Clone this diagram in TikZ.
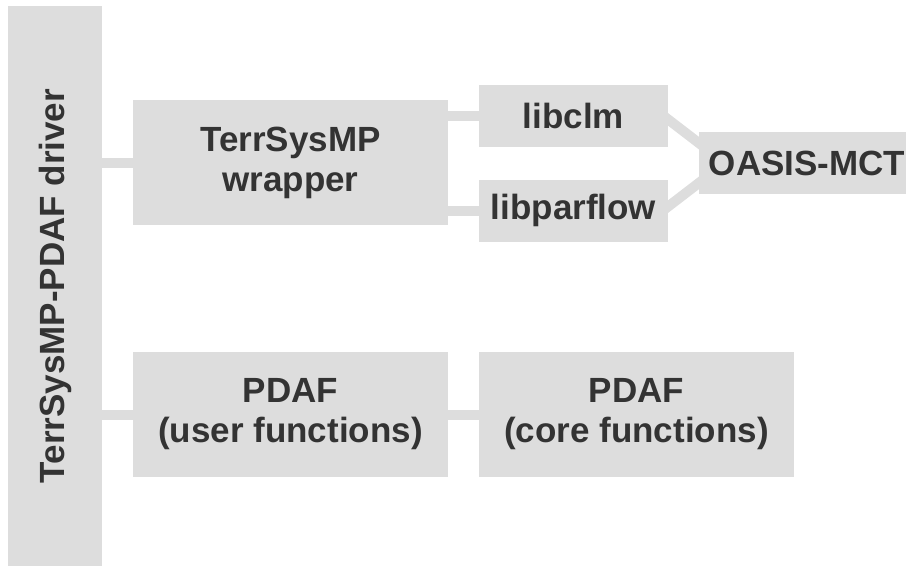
\documentclass[tikz,border=0pt]{standalone}
\usepackage{fontspec}
\setmainfont{Liberation Sans}
\usepackage{xcolor}
\usetikzlibrary{backgrounds,calc}
\definecolor{boxfill}{HTML}{DDDDDD}
\definecolor{boxtext}{HTML}{333333}

\begin{document}
\begin{tikzpicture}[x=1pt,y=-1pt,
        box/.style={rectangle,fill=boxfill,text=boxtext,inner sep=0pt,align=center,
            font=\fontsize{35}{40}\selectfont\bfseries},
        link/.style={draw=boxfill,line width=10pt}]
            \useasboundingbox (0,0) rectangle (906,566);
            \node (drv) at (55,286) [box,rotate=90,minimum width=560pt,minimum height=94pt] {TerrSysMP-PDAF driver};
            \node (wrap) at (290.5,162.5) [box,minimum width=315pt,minimum height=125pt] {TerrSysMP\\wrapper};
            \node (clm) at (573.5,115.5) [box,minimum width=189pt,minimum height=62pt] {libclm};
            \node (pf) at (573.5,210.5) [box,minimum width=189pt,minimum height=62pt] {libparflow};
            \node (oasis) at (807,163) [box,minimum width=216pt,minimum height=62pt] {OASIS-MCT};
            \node (user) at (290.5,414.5) [box,minimum width=315pt,minimum height=125pt] {PDAF\\(user functions)};
            \node (core) at (636.5,414.5) [box,minimum width=315pt,minimum height=125pt] {PDAF\\(core functions)};
            \coordinate (c1) at ($(clm.east)+(0,4)$);
            \coordinate (c2) at ($(oasis.west)+(0,-20)$);
            \coordinate (p1) at ($(pf.east)+(0,-4)$);
            \coordinate (p2) at ($(oasis.west)+(0,20)$);
            \begin{scope}[on background layer]
            \draw[link] (drv.south |- wrap.west) -- (wrap.west) (drv.south |- user.west) -- (user.west);
            \draw[link] (wrap.east |- clm.west) -- (clm.west) (wrap.east |- pf.west) -- (pf.west);
            \draw[link] ($(c1)!-0.3!(c2)$) -- ($(c2)!-0.3!(c1)$) ($(p1)!-0.3!(p2)$) -- ($(p2)!-0.3!(p1)$);
            \draw[link] (user.east) -- (core.west);
            \end{scope}
        \end{tikzpicture}
\end{document}
